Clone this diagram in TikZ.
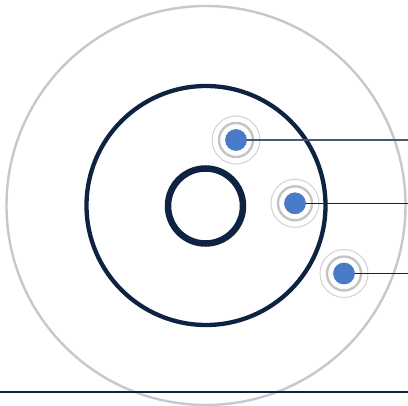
\documentclass[tikz,border=0pt]{standalone}
\definecolor{navy}{HTML}{0E2242}
\definecolor{dotblue}{HTML}{4A7BC8}
\definecolor{ringgray}{HTML}{C4C4C4}
\definecolor{ringlight}{HTML}{D2D2D2}
\definecolor{outergray}{HTML}{C6C7D0}
\tikzset{
  dot/.style={circle, fill=dotblue, minimum size=21.5pt, inner sep=0pt},
  ringin/.style={circle, draw=ringgray, line width=2.4pt, minimum size=34pt, inner sep=0pt},
  ringout/.style={circle, draw=ringlight, line width=1pt, minimum size=48pt, inner sep=0pt},
  leader/.style={draw=navy, line width=1.3pt},
}
\begin{document}
\begin{tikzpicture}[x=1pt,y=-1pt]
\useasboundingbox (0,0) rectangle (408,406);
% outer light circle
\draw[outergray, line width=2.4pt] (206,205.5) circle (199.5);
% bottom line
\coordinate (bl) at (0,392);
\coordinate (br) at (408,392);
\draw[navy, line width=1.6pt] (bl) -- (br);
% middle circle
\draw[navy, line width=4.3pt] (206,205.5) circle (119.5);
% inner circle
\draw[navy, line width=6.5pt] (205.5,206) circle (37.5);
% dots
\foreach \n/\x/\y in {a/236/140, b/295/203.3, c/344/273.5}{
  \node[ringout] at (\x,\y) {};
  \node[ringin] at (\x,\y) {};
  \node[dot] (\n) at (\x,\y) {};
  \coordinate (\n e) at (408,\y);
}
\draw[leader, draw=navy!75] (a.center) -- (ae);
\draw[leader] (b.center) -- (be);
\draw[leader] (c.center) -- (ce);
\foreach \n in {a,b,c}{ \node[dot] at (\n) {}; }
\end{tikzpicture}
\end{document}
